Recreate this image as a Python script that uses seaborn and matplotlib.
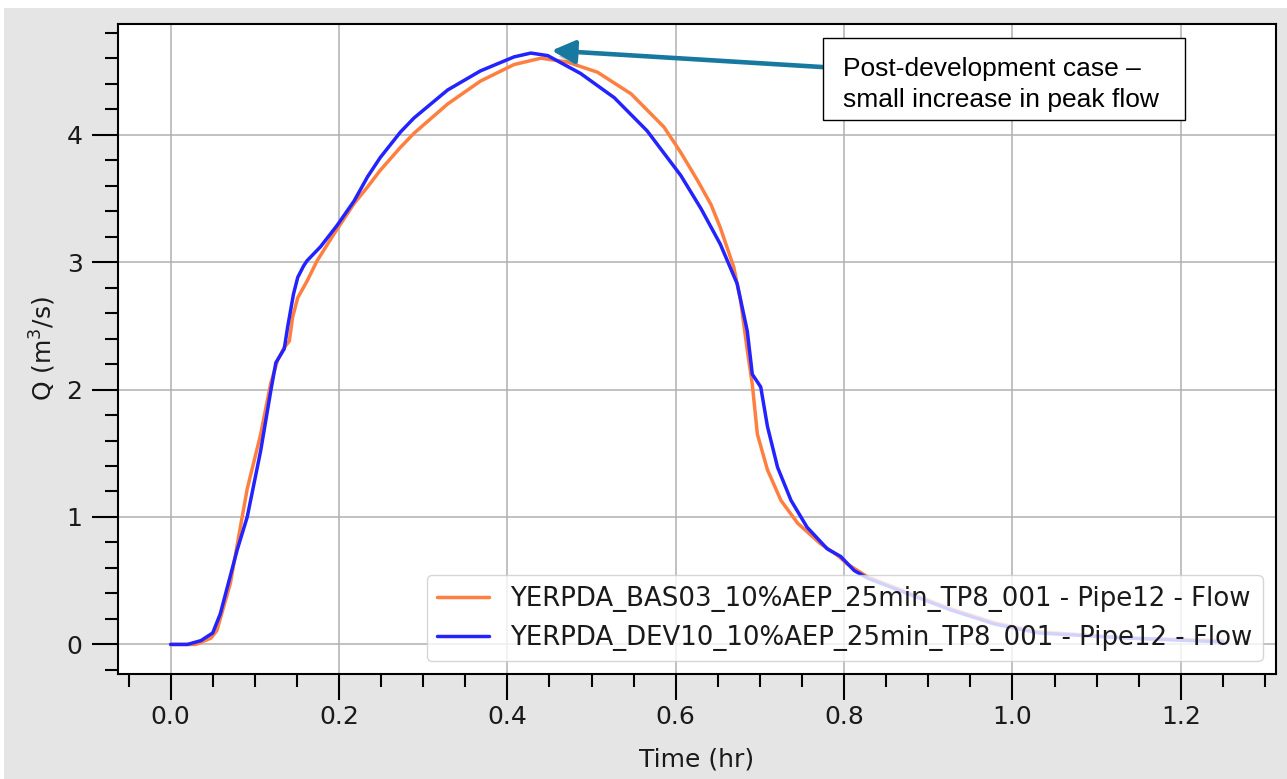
import numpy as np
import pandas as pd
import matplotlib
matplotlib.use("Agg")
import matplotlib.pyplot as plt
import seaborn as sns
from matplotlib.patches import Rectangle
from matplotlib import patheffects as pe
from matplotlib.ticker import MultipleLocator

# ---------------- data ----------------
series_names = [
    "YERPDA_BAS03_10%AEP_25min_TP8_001 - Pipe12 - Flow",
    "YERPDA_DEV10_10%AEP_25min_TP8_001 - Pipe12 - Flow",
]

bas_time = [0.0, 0.03, 0.048, 0.055, 0.071, 0.085, 0.091, 0.107, 0.119, 0.127,
            0.135, 0.141, 0.145, 0.151, 0.162, 0.174, 0.194, 0.218, 0.234, 0.249,
            0.273, 0.289, 0.329, 0.368, 0.408, 0.44, 0.471, 0.507, 0.547, 0.586,
            0.606, 0.626, 0.642, 0.653, 0.669, 0.677, 0.685, 0.691, 0.697, 0.709,
            0.725, 0.745, 0.772, 0.792, 0.804, 0.828, 0.875, 0.927, 0.979, 1.031,
            1.136, 1.25]
bas_flow = [0.0, 0.0, 0.05, 0.11, 0.48, 1.0, 1.22, 1.65, 2.05, 2.23,
            2.33, 2.38, 2.57, 2.72, 2.85, 3.01, 3.22, 3.46, 3.59, 3.72,
            3.90, 4.01, 4.24, 4.42, 4.55, 4.60, 4.57, 4.49, 4.32, 4.06,
            3.86, 3.64, 3.45, 3.27, 2.96, 2.70, 2.31, 2.04, 1.65, 1.37,
            1.13, 0.95, 0.79, 0.70, 0.63, 0.53, 0.41, 0.28, 0.17, 0.10,
            0.05, 0.03]

dev_time = [0.0, 0.02, 0.036, 0.05, 0.059, 0.079, 0.091, 0.107, 0.119, 0.125,
            0.135, 0.139, 0.146, 0.151, 0.158, 0.162, 0.178, 0.198, 0.218, 0.234,
            0.249, 0.273, 0.289, 0.329, 0.368, 0.408, 0.428, 0.448, 0.487, 0.527,
            0.566, 0.606, 0.630, 0.653, 0.673, 0.685, 0.691, 0.701, 0.709, 0.721,
            0.737, 0.756, 0.780, 0.796, 0.812, 0.828, 0.875, 0.927, 0.979, 1.031,
            1.136, 1.25]
dev_flow = [0.0, 0.0, 0.03, 0.09, 0.24, 0.74, 1.0, 1.52, 1.99, 2.21,
            2.32, 2.49, 2.75, 2.88, 2.97, 3.01, 3.12, 3.29, 3.48, 3.67,
            3.82, 4.02, 4.13, 4.35, 4.50, 4.61, 4.64, 4.62, 4.48, 4.29,
            4.03, 3.68, 3.42, 3.14, 2.83, 2.46, 2.12, 2.02, 1.71, 1.39,
            1.13, 0.92, 0.75, 0.69, 0.58, 0.52, 0.40, 0.27, 0.16, 0.09,
            0.05, 0.02]

annotation_text = "Post-development case \u2013\nsmall increase in peak flow"
peak_time, peak_flow = 0.4527, 4.66

colors = ["#ff7f40", "#2323ff"]

df = pd.concat([
    pd.DataFrame({"Time": bas_time, "Q": bas_flow, "Series": series_names[0]}),
    pd.DataFrame({"Time": dev_time, "Q": dev_flow, "Series": series_names[1]}),
], ignore_index=True)

# ---------------- style ----------------
sns.set_style("white")
plt.rcParams["font.family"] = ["DejaVu Sans"]

W, H = 1287, 779
fig = plt.figure(figsize=(W / 100, H / 100), dpi=100, facecolor="white")
fig.patches.append(Rectangle((4 / W, 0), 1, 1 - 8 / H, transform=fig.transFigure,
                             facecolor="#e5e5e5", edgecolor="none", zorder=-10))

ax_l, ax_r, ax_t, ax_b = 118, 1275.5, 23.5, 674
ax = fig.add_axes([ax_l / W, 1 - ax_b / H, (ax_r - ax_l) / W, (ax_b - ax_t) / H])
ax.set_facecolor("white")

sns.lineplot(data=df, x="Time", y="Q", hue="Series", palette=colors,
             estimator=None, sort=False, lw=2.5, legend=False, ax=ax)
for ln in ax.lines:
    ln.set_solid_joinstyle("round")

ax.grid(True, which="major", color="#b0b0b0", lw=1.1)
ax.set_axisbelow(True)
for s in ax.spines.values():
    s.set_color("black")
    s.set_linewidth(1.5)

ax.xaxis.set_major_locator(MultipleLocator(0.2))
ax.xaxis.set_minor_locator(MultipleLocator(0.05))
ax.yaxis.set_major_locator(MultipleLocator(1))
ax.yaxis.set_minor_locator(MultipleLocator(0.2))
ax.tick_params(which="both", bottom=True, left=True, top=False, right=False)
ax.tick_params(which="major", direction="out", length=18.5, width=1.5,
               color="black", labelsize=18, labelcolor="#1a1a1a")
ax.tick_params(axis="x", which="major", pad=4)
ax.tick_params(axis="y", which="major", pad=7)
ax.tick_params(which="minor", direction="out", length=9.5, width=1.5, color="black")

ax.set_xlabel("Time (hr)", fontsize=18, color="#1a1a1a", labelpad=13)
ax.set_ylabel("Q (m$^3$/s)", fontsize=18, color="#1a1a1a", labelpad=6)

leg = ax.legend(handles=ax.lines[:2], labels=series_names, loc="lower right",
                fontsize=18.7, framealpha=0.8)
for t in leg.get_texts():
    t.set_color("#1a1a1a")

# annotation box + arrow
ax.annotate("", xy=(peak_time, peak_flow), xycoords="data",
            xytext=(0.609, 0.933), textcoords="axes fraction",
            arrowprops=dict(arrowstyle="-|>,head_length=0.7,head_width=0.35",
                            color="#17799f", lw=3.3, mutation_scale=20,
                            shrinkA=0, shrinkB=0,
                            path_effects=[pe.withSimplePatchShadow(
                                offset=(1.5, -4), shadow_rgbFace="#8a8a8a", alpha=0.45)]),
            zorder=5)
ax.add_patch(Rectangle((0.609, 0.852), 0.922 - 0.609, 0.978 - 0.852,
                       transform=ax.transAxes, facecolor="white",
                       edgecolor="black", lw=1.0, zorder=6))
ax.text(0.626, 0.906, annotation_text, transform=ax.transAxes, ha="left",
        va="center", fontsize=19, family=["Liberation Sans", "DejaVu Sans"],
        linespacing=1.35, color="black", zorder=7)

fig.savefig("out.png", dpi=100, facecolor=fig.get_facecolor())
